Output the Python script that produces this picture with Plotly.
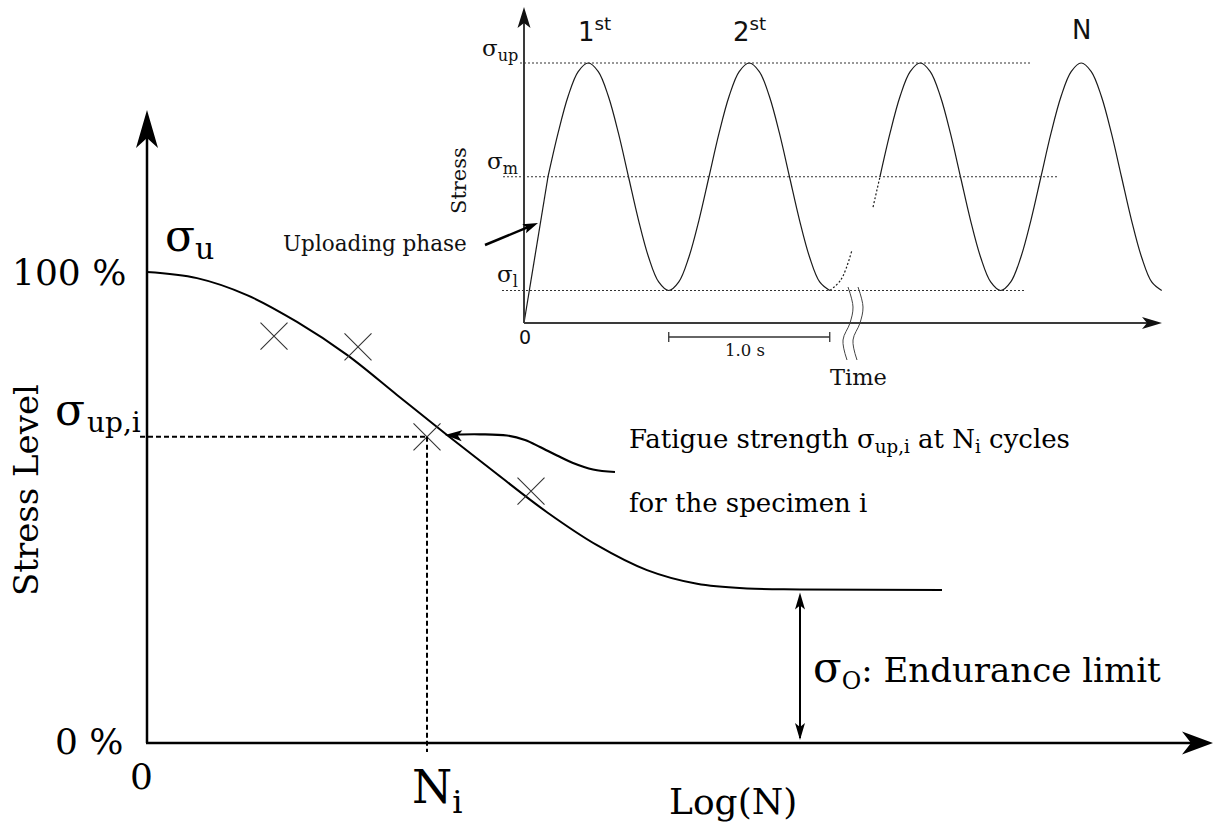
import math
import plotly.graph_objects as go

# ---------------- data ----------------
# Main S-N curve: Log(N) (arbitrary units) vs stress level (% of ultimate strength)
curve_logN = [0.0, 0.5, 1.0, 1.5, 2.0, 2.5, 3.0, 3.5, 4.0, 4.5, 5.0, 5.5, 6.0, 6.53, 7.95]
curve_stress = [100.0, 98.7, 95.1, 89.4, 82.4, 73.9, 65.4, 57.1, 49.0, 42.0, 36.7, 33.8, 32.8, 32.6, 32.5]

# test specimens (crosses)
spec_logN = [1.27, 2.11, 2.80, 3.84]
spec_stress = [86.4, 84.1, 65.0, 53.5]

Ni_logN = 2.80           # N_i
sigma_up_i = 65.0        # fatigue strength of specimen i (%)
endurance_limit = 32.5   # sigma_O (%)
stress_tick_vals = [0, 100]
stress_tick_text = ["0 %", "100 %"]

# Inset: cyclic loading, time in s, stress normalised to sigma_up
sigma_up = 1.0
sigma_m = 0.5625
sigma_l = 0.125

ramp_t = [0.0, 0.149]
ramp_s = [0.0, 0.5625]
cyc1_t = [0.149, 0.2115, 0.274, 0.3365, 0.399, 0.4615, 0.524, 0.5865, 0.649, 0.7115, 0.774, 0.8365,
          0.899, 0.9615, 1.024, 1.0865, 1.149, 1.2115, 1.274, 1.3365, 1.399, 1.4615, 1.524, 1.5865,
          1.649, 1.7115, 1.774, 1.8365, 1.899]
cyc1_s = [0.5625, 0.730, 0.872, 0.967, 1.0, 0.967, 0.872, 0.730, 0.5625, 0.395, 0.253, 0.158,
          0.125, 0.158, 0.253, 0.395, 0.5625, 0.730, 0.872, 0.967, 1.0, 0.967, 0.872, 0.730,
          0.5625, 0.395, 0.253, 0.158, 0.125]
gap1_t = [1.899, 1.968, 2.037]
gap1_s = [0.125, 0.166, 0.280]
gap2_t = [2.168, 2.211]
gap2_s = [0.446, 0.5625]
cycN_t = [2.211, 2.2735, 2.336, 2.3985, 2.461, 2.5235, 2.586, 2.6485, 2.711, 2.7735, 2.836, 2.8985,
          2.961, 3.0235, 3.086, 3.1485, 3.211, 3.2735, 3.336, 3.3985, 3.461, 3.5235, 3.586, 3.6485,
          3.711, 3.7735, 3.836, 3.8985, 3.961]
cycN_s = [0.5625, 0.730, 0.872, 0.967, 1.0, 0.967, 0.872, 0.730, 0.5625, 0.395, 0.253, 0.158,
          0.125, 0.158, 0.253, 0.395, 0.5625, 0.730, 0.872, 0.967, 1.0, 0.967, 0.872, 0.730,
          0.5625, 0.395, 0.253, 0.158, 0.125]
scale_bar_t = [0.899, 1.899]   # one period = 1.0 s
cycle_labels = ["1<sup>st</sup>", "2<sup>st</sup>", "N"]

# ---------------- layout geometry ----------------
W, H = 1214, 827
MX0, MXS = 147, 100.0    # main: pixel of x=0, px per unit
MY0, MYS = 743, 4.71
IX0, IXS = 524, 161.0    # inset
IY0, IYS = 323, 260.0

SERIF = "DejaVu Serif"
SANS = "DejaVu Sans"


def mx(px):
    return (px - MX0) / MXS


def my(py):
    return (MY0 - py) / MYS


def ix(px):
    return (px - IX0) / IXS


def iy(py):
    return (IY0 - py) / IYS


def head_path(tx, ty, ux, uy, L, Wd, notch, sx, sy):
    n = math.hypot(ux, uy)
    ux, uy = ux / n, uy / n
    qx, qy = -uy, ux
    pts = [(0, 0),
           (-L * ux + Wd / 2 * qx, -L * uy + Wd / 2 * qy),
           (-(L - notch) * ux, -(L - notch) * uy),
           (-L * ux - Wd / 2 * qx, -L * uy - Wd / 2 * qy)]
    return "M " + " L ".join(f"{tx + a / sx:.5f},{ty + b / sy:.5f}" for a, b in pts) + " Z"


fig = go.Figure()

# ---------- main chart traces ----------
fig.add_trace(go.Scatter(x=curve_logN, y=curve_stress, mode="lines",
                         line=dict(color="black", width=2, shape="spline", smoothing=1.0),
                         hoverinfo="skip", showlegend=False))
fig.add_trace(go.Scatter(x=spec_logN, y=spec_stress, mode="markers",
                         marker=dict(symbol="x-thin", size=27, line=dict(color="#333333", width=1.1)),
                         hoverinfo="skip", showlegend=False))
# dashed guides for specimen i
fig.add_trace(go.Scatter(x=[mx(140), Ni_logN], y=[sigma_up_i, sigma_up_i], mode="lines",
                         line=dict(color="black", width=2, dash="5px,3px"),
                         hoverinfo="skip", showlegend=False))
fig.add_trace(go.Scatter(x=[Ni_logN, Ni_logN], y=[sigma_up_i, my(752)], mode="lines",
                         line=dict(color="black", width=2, dash="5px,3px"),
                         hoverinfo="skip", showlegend=False))
# leader of the fatigue-strength note
lead_px = [(455, 434.5), (480, 434.3), (507, 435.5), (525, 440), (540, 447), (557, 455.5),
           (573, 463), (593, 469.5), (615, 472)]
fig.add_trace(go.Scatter(x=[mx(p[0]) for p in lead_px], y=[my(p[1]) for p in lead_px], mode="lines",
                         line=dict(color="black", width=2.2, shape="spline"),
                         hoverinfo="skip", showlegend=False))

# ---------- inset traces ----------
IC = "#1a1a1a"
for tx_, sy_, dash, shape in [(ramp_t, ramp_s, "solid", "linear"),
                              (cyc1_t, cyc1_s, "solid", "spline"),
                              (gap1_t, gap1_s, "2px,2px", "spline"),
                              (gap2_t, gap2_s, "2px,2px", "linear"),
                              (cycN_t, cycN_s, "solid", "spline")]:
    fig.add_trace(go.Scatter(x=tx_, y=sy_, mode="lines", xaxis="x2", yaxis="y2",
                             line=dict(color=IC, width=1.2, dash=dash, shape=shape),
                             hoverinfo="skip", showlegend=False))
# reference levels
for lvl, t0, t1 in [(sigma_up, ix(520), ix(1032)), (sigma_m, ix(503), ix(1057)), (sigma_l, ix(502), ix(1024))]:
    fig.add_trace(go.Scatter(x=[t0, t1], y=[lvl, lvl], mode="lines", xaxis="x2", yaxis="y2",
                             line=dict(color="#333333", width=1.1, dash="2px,2px"),
                             hoverinfo="skip", showlegend=False))
# axis-break marks
brk = [(848, 287), (853, 307), (850, 323), (843, 340), (847, 360)]
for off in (0, 10):
    fig.add_trace(go.Scatter(x=[ix(p[0] + off) for p in brk], y=[iy(p[1]) for p in brk], mode="lines",
                             xaxis="x2", yaxis="y2",
                             line=dict(color="#444444", width=1, shape="spline"),
                             hoverinfo="skip", showlegend=False))
# 1.0 s scale bar
fig.add_trace(go.Scatter(x=scale_bar_t, y=[iy(337), iy(337)], mode="lines", xaxis="x2", yaxis="y2",
                         line=dict(color="#333333", width=1.3), hoverinfo="skip", showlegend=False))
for t in scale_bar_t:
    fig.add_trace(go.Scatter(x=[t, t], y=[iy(332), iy(342)], mode="lines", xaxis="x2", yaxis="y2",
                             line=dict(color="#333333", width=1.3), hoverinfo="skip", showlegend=False))

# ---------- shapes: axes and arrow heads ----------
shapes = []
# main y axis
ytip = my(110)
shapes.append(dict(type="line", xref="x", yref="y", x0=0, y0=0, x1=0, y1=ytip - 28 / MYS,
                   line=dict(color="black", width=2.5)))
shapes.append(dict(type="path", xref="x", yref="y", path=head_path(0, ytip, 0, 1, 38, 22, 10, MXS, MYS),
                   fillcolor="black", line=dict(width=0)))
# main x axis
xtip = mx(1213)
shapes.append(dict(type="line", xref="x", yref="y", x0=mx(146), y0=0, x1=xtip - 22 / MXS, y1=0,
                   line=dict(color="black", width=2.5)))
shapes.append(dict(type="path", xref="x", yref="y", path=head_path(xtip, 0, 1, 0, 31, 23, 9, MXS, MYS),
                   fillcolor="black", line=dict(width=0)))
# endurance-limit double arrow
ex = mx(800)
shapes.append(dict(type="line", xref="x", yref="y", x0=ex, y0=my(748) + 10 / MYS, x1=ex,
                   y1=endurance_limit - 12 / MYS, line=dict(color="black", width=2)))
shapes.append(dict(type="path", xref="x", yref="y",
                   path=head_path(ex, endurance_limit - 2.5 / MYS, 0, 1, 17, 10, 4, MXS, MYS),
                   fillcolor="black", line=dict(width=0)))
shapes.append(dict(type="path", xref="x", yref="y",
                   path=head_path(ex, my(740), 0, -1, 17, 10, 4, MXS, MYS),
                   fillcolor="black", line=dict(width=0)))
# leader arrow head
shapes.append(dict(type="path", xref="x", yref="y",
                   path=head_path(mx(445), my(435), -1, 0.05, 17, 11, 4, MXS, MYS),
                   fillcolor="black", line=dict(width=0)))
# inset y axis
itip = iy(7)
shapes.append(dict(type="line", xref="x2", yref="y2", x0=0, y0=0, x1=0, y1=itip - 15 / IYS,
                   line=dict(color="#3a3a3a", width=2)))
shapes.append(dict(type="path", xref="x2", yref="y2", path=head_path(0, itip, 0, 1, 21, 13, 5, IXS, IYS),
                   fillcolor="#111111", line=dict(width=0)))
# inset x axis
itx = ix(1162)
shapes.append(dict(type="line", xref="x2", yref="y2", x0=0, y0=0, x1=itx - 14 / IXS, y1=0,
                   line=dict(color="#3a3a3a", width=2)))
shapes.append(dict(type="path", xref="x2", yref="y2", path=head_path(itx, 0, 1, 0, 20, 12, 5, IXS, IYS),
                   fillcolor="#111111", line=dict(width=0)))
# uploading-phase arrow
ut0, us0 = ix(485), iy(245)
ut1, us1 = ix(538), iy(223)
shapes.append(dict(type="line", xref="x2", yref="y2", x0=ut0, y0=us0, x1=ix(528), y1=iy(227.2),
                   line=dict(color="black", width=2.5)))
shapes.append(dict(type="path", xref="x2", yref="y2", path=head_path(ut1, us1, 53, 22, 15, 10, 3, IXS, IYS),
                   fillcolor="black", line=dict(width=0)))

# ---------- text ----------
ann = []


def txt(px, py, text, size, family=SERIF, xa="center", ya="middle", angle=0, color="black"):
    ann.append(dict(x=px / W, y=1 - py / H, xref="paper", yref="paper", text=text, showarrow=False,
                    xanchor=xa, yanchor=ya, textangle=angle, borderpad=0,
                    font=dict(family=family, size=size, color=color)))


# main labels
txt(127, 272, stress_tick_text[1], 36, xa="right")
txt(125, 741, stress_tick_text[0], 36, xa="right")
txt(141, 776, "0", 36)
txt(26, 490, "Stress Level", 34, angle=-90)
txt(733, 801, "Log(N)", 36)
txt(180, 235, "σ", 44)
txt(204, 249, "u", 30)
txt(70, 409, "σ", 44)
txt(86, 423, "up,i", 28, xa="left")
txt(411, 790, "N<sub>i</sub>", 46, xa="left")
txt(628, 440, "Fatigue strength σ<sub>up,i</sub> at N<sub>i</sub> cycles", 26, xa="left")
txt(628, 503, "for the specimen i", 26, xa="left")
txt(812, 669, "<span style='font-size:42px'>σ</span><sub>O</sub>: Endurance limit", 34, xa="left")

# inset labels
for lab, px in zip(cycle_labels, [594, 749, 1081]):
    txt(px, 30, lab, 26, family=SANS, color="#111111")
txt(525, 337, "0", 19, family=SANS, color="#111111")
txt(519, 50, "σ<sub>up</sub>", 23, xa="right", color="#111111")
txt(519, 163, "σ<sub>m</sub>", 23, xa="right", color="#111111")
txt(519, 276, "σ<sub>l</sub>", 23, xa="right", color="#111111")
txt(459, 180, "Stress", 21, angle=-90, color="#111111")
txt(468, 243, "Uploading phase", 21.5, xa="right", color="#111111")
txt(745, 350, "1.0 s", 16.5, color="#111111")
txt(858, 377, "Time", 22.5, color="#111111")

fig.update_layout(
    width=W, height=H, margin=dict(l=0, r=0, t=0, b=0), autosize=False,
    paper_bgcolor="white", plot_bgcolor="white", showlegend=False,
    xaxis=dict(range=[mx(0), mx(W)], domain=[0, 1], visible=False, fixedrange=True),
    yaxis=dict(range=[my(H), my(0)], domain=[0, 1], visible=False, fixedrange=True,
               tickvals=stress_tick_vals, ticktext=stress_tick_text),
    xaxis2=dict(range=[ix(0), ix(W)], domain=[0, 1], visible=False, overlaying="x", anchor="y2",
                fixedrange=True),
    yaxis2=dict(range=[iy(H), iy(0)], domain=[0, 1], visible=False, overlaying="y", anchor="x2",
                fixedrange=True),
    shapes=shapes, annotations=ann,
)

fig.write_html("out.html")
